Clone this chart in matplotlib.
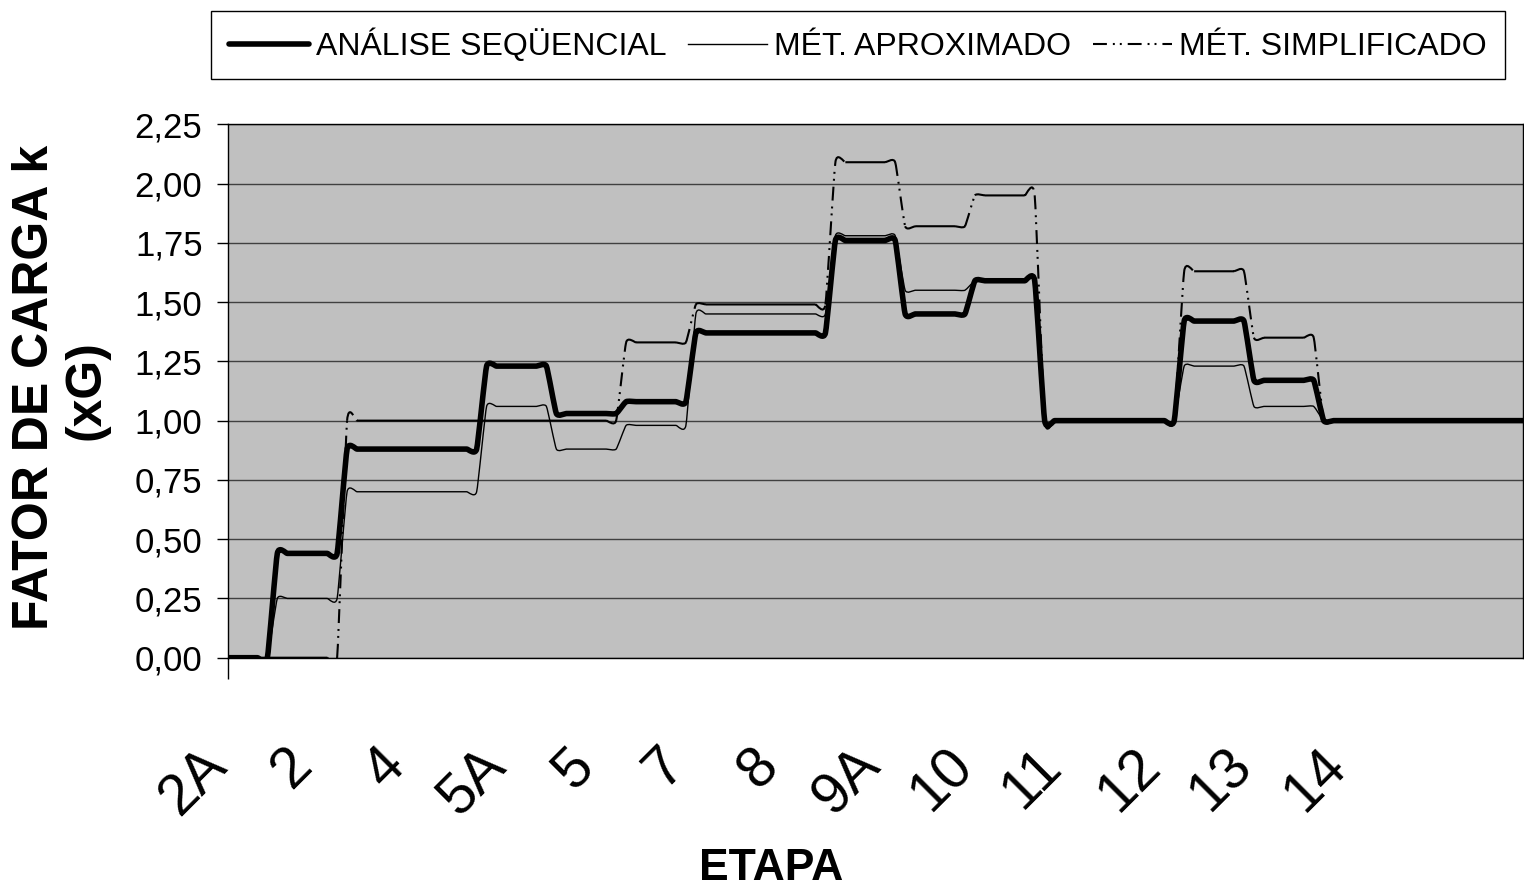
import numpy as np
import matplotlib
matplotlib.use("Agg")
import matplotlib.pyplot as plt
from matplotlib.path import Path
from matplotlib.patches import PathPatch
from matplotlib.lines import Line2D
from matplotlib.font_manager import FontProperties

plt.rcParams['lines.scale_dashes'] = False

# ---------------- data ----------------
# number of chart points in each plateau (equally spaced categories)
plateau_points = [5, 7, 14, 7, 7, 7, 14, 7, 7, 7, 14, 7, 7, 21]
# plateau levels of each series
analise_seq = [0.00, 0.44, 0.88, 1.23, 1.03, 1.08, 1.37, 1.76, 1.45, 1.59, 1.00, 1.42, 1.17, 1.00]
met_aprox   = [0.00, 0.25, 0.70, 1.06, 0.88, 0.98, 1.45, 1.78, 1.55, 1.59, 1.00, 1.23, 1.06, 1.00]
met_simpl   = [0.00, 0.00, 1.00, 1.00, 1.00, 1.33, 1.49, 2.09, 1.82, 1.95, 1.00, 1.63, 1.35, 1.00]
series_names = ["ANÁLISE SEQÜENCIAL", "MÉT. APROXIMADO", "MÉT. SIMPLIFICADO"]

y_ticks = [0.00, 0.25, 0.50, 0.75, 1.00, 1.25, 1.50, 1.75, 2.00, 2.25]
x_tick_labels = ['2A', '2', '4', '5A', '5', '7', '8', '9A', '10', '11', '12', '13', '14']

# ---------------- layout ----------------
x_tick_pos = [0.05, 8.68, 18.01, 28.15, 36.98, 46.01, 55.54, 65.68, 75.0, 83.94, 93.78, 103.01, 112.45]
W, H = 1524, 891
font = ['Liberation Sans', 'DejaVu Sans']
dash_pat = (10, 4.3, 1.4, 3.6, 1.4, 4.3)
TENSION = 0.08


def smooth_path(x, y, f, split=False):
    """Excel-like smoothed line: cubic Bezier through the data points."""
    P = np.column_stack([x, y]).astype(float)
    n = len(P)
    verts, codes = [], []
    for i in range(n - 1):
        p0 = P[max(i - 1, 0)]
        p1 = P[i]
        p2 = P[i + 1]
        p3 = P[min(i + 2, n - 1)]
        c1 = p1 + f * (p2 - p0)
        c2 = p2 - f * (p3 - p1)
        if i == 0 or split:
            verts.append(p1)
            codes.append(Path.MOVETO)
        verts += [c1, c2, p2]
        codes += [Path.CURVE4] * 3
    return Path(verts, codes)


fig = plt.figure(figsize=(W / 100, H / 100), dpi=100)
left, right, top, bottom = 227.5, 1523, 124.3, 657.7
ax = fig.add_axes([left / W, (H - bottom) / H, (right - left) / W, (bottom - top) / H])
ax.set_facecolor('#C0C0C0')

x = np.arange(sum(plateau_points))
y_an = np.repeat(analise_seq, plateau_points)
y_ap = np.repeat(met_aprox, plateau_points)
y_si = np.repeat(met_simpl, plateau_points)

ax.add_patch(PathPatch(smooth_path(x, y_an, TENSION), fill=False, edgecolor='black',
                       lw=4.0, capstyle='round', joinstyle='round', zorder=3))
ax.add_patch(PathPatch(smooth_path(x, y_ap, TENSION), fill=False, edgecolor='black',
                       lw=1.0, capstyle='round', joinstyle='round', zorder=4))
ax.add_patch(PathPatch(smooth_path(x, y_si, TENSION, split=True), fill=False, edgecolor='black',
                       lw=1.5, linestyle=(0, dash_pat), capstyle='butt', zorder=5))

ax.set_xlim(x[0], x[-1])
ax.set_ylim(y_ticks[0], y_ticks[-1])

ax.set_yticks(y_ticks, labels=[f"{v:.2f}".replace('.', ',') for v in y_ticks],
              fontsize=25, fontfamily=font)
ax.tick_params(axis='y', direction='out', length=8, width=1, pad=10, color='black')

ax.set_xticks(x_tick_pos, labels=x_tick_labels, rotation=45, ha='right', va='baseline',
              rotation_mode='anchor', fontsize=41, fontfamily=font)
ax.tick_params(axis='x', which='major', length=0, pad=79.2)
ax.set_xticks([x[0]], minor=True)
ax.tick_params(axis='x', which='minor', length=15, width=1, direction='out', color='black')

ax.grid(axis='y', color='#404040', lw=1)
ax.set_axisbelow(True)
for s in ax.spines.values():
    s.set_color('black')
    s.set_linewidth(1)

fig.text(35 / W, 1 - 387 / H, "FATOR DE CARGA k", rotation=90, ha='center', va='center',
         fontsize=36, fontweight='bold', fontfamily=font)
fig.text(87 / W, 1 - 390 / H, "(xG)", rotation=90, ha='center', va='center',
         fontsize=36, fontweight='bold', fontfamily=font)
fig.text(771 / W, 1 - 868 / H, "ETAPA", ha='center', va='center',
         fontsize=32, fontweight='bold', fontfamily=font)

handles = [Line2D([], [], color='black', lw=4.0, solid_capstyle='round'),
           Line2D([], [], color='black', lw=1.0),
           Line2D([], [], color='black', lw=1.5, dashes=dash_pat)]
leg = fig.legend(handles, series_names, loc='center', bbox_to_anchor=(858 / W, 1 - 45 / H),
                 ncol=3, frameon=True, fancybox=False, edgecolor='black', facecolor='white',
                 framealpha=1, prop=FontProperties(family=font, size=23),
                 handlelength=2.5, handletextpad=0.22, columnspacing=0.66,
                 borderpad=0.55, borderaxespad=0)
leg.get_frame().set_linewidth(1.0)

fig.savefig("out.png", dpi=100)
